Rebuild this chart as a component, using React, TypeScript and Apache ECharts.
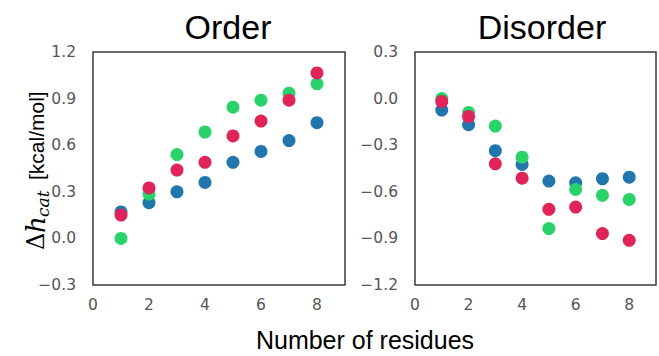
import React, { useEffect, useRef } from "react";
import * as echarts from "echarts";

const residues = [1, 2, 3, 4, 5, 6, 7, 8];

const orderBlue = [0.17, 0.23, 0.3, 0.36, 0.49, 0.56, 0.63, 0.745];
const orderGreen = [0.0, 0.285, 0.54, 0.685, 0.845, 0.89, 0.935, 0.995];
const orderRed = [0.15, 0.325, 0.44, 0.49, 0.66, 0.755, 0.89, 1.065];

const disBlue = [-0.074, -0.168, -0.335, -0.424, -0.531, -0.542, -0.516, -0.506];
const disGreen = [0.0, -0.089, -0.177, -0.377, -0.837, -0.585, -0.623, -0.649];
const disRed = [-0.018, -0.115, -0.42, -0.512, -0.713, -0.698, -0.869, -0.912];

const titles = ["Order", "Disorder"];
const xTitle = "Number of residues";

const BLUE = "#2076ad";
const GREEN = "#2ad36a";
const RED = "#e0245a";

const pairs = (ys: number[]) => residues.map((x, i) => [x, ys[i]]);

export default function App() {
  const ref = useRef<HTMLDivElement>(null);
  useEffect(() => {
    if (!ref.current) return;
    const chart = echarts.init(ref.current, null, { renderer: "svg" });
    const tickFont = {
      fontFamily: "DejaVu Sans",
      fontSize: 15.5,
      color: "#555555",
    };
    const fmtY = (v: number) => v.toFixed(1).replace("-", "\u2212");
    const fmtX = (v: number) => (v % 2 === 0 ? String(v) : "");
    const xAxisBase = {
      type: "value",
      min: 0,
      max: 9,
      interval: 1,
      axisLine: { show: false },
      axisTick: { show: false },
      splitLine: { show: false },
      axisLabel: { ...tickFont, margin: 12, formatter: fmtX },
    };
    const yAxisBase = {
      type: "value",
      interval: 0.3,
      axisLine: { show: false },
      axisTick: { show: false },
      splitLine: { show: false },
      axisLabel: { ...tickFont, margin: 17, formatter: fmtY },
    };
    const sc = (xi: number, ys: number[], color: string, name: string) => ({
      type: "scatter",
      name,
      xAxisIndex: xi,
      yAxisIndex: xi,
      data: pairs(ys),
      symbolSize: 13,
      itemStyle: { color, opacity: 1 },
    });
    chart.setOption({
      animation: false,
      backgroundColor: "#ffffff",
      grid: [
        { left: 93, top: 52, width: 252, height: 233, show: true, borderColor: "#3a3a3a", borderWidth: 1.5, backgroundColor: "transparent" },
        { left: 415, top: 52, width: 250, height: 233, show: true, borderColor: "#3a3a3a", borderWidth: 1.5, backgroundColor: "transparent" },
      ],
      xAxis: [
        { ...xAxisBase, gridIndex: 0 },
        { ...xAxisBase, gridIndex: 1 },
      ],
      yAxis: [
        { ...yAxisBase, gridIndex: 0, min: -0.3, max: 1.2 },
        { ...yAxisBase, gridIndex: 1, min: -1.2, max: 0.3 },
      ],
      series: [
        sc(0, orderBlue, BLUE, "blue"),
        sc(0, orderGreen, GREEN, "green"),
        sc(0, orderRed, RED, "red"),
        sc(1, disBlue, BLUE, "blue"),
        sc(1, disGreen, GREEN, "green"),
        sc(1, disRed, RED, "red"),
      ],
      graphic: [
        {
          type: "text",
          x: 228,
          y: 27,
          style: {
            text: titles[0],
            font: "34px 'Liberation Sans', Arial, sans-serif",
            fill: "#000",
            textAlign: "center",
            textVerticalAlign: "middle",
          },
        },
        {
          type: "text",
          x: 542,
          y: 27,
          style: {
            text: titles[1],
            font: "34px 'Liberation Sans', Arial, sans-serif",
            fill: "#000",
            textAlign: "center",
            textVerticalAlign: "middle",
          },
        },
        {
          type: "text",
          x: 365,
          y: 340,
          style: {
            text: xTitle,
            font: "25px 'Liberation Sans', Arial, sans-serif",
            fill: "#000",
            textAlign: "center",
            textVerticalAlign: "middle",
          },
        },
        {
          type: "group",
          x: 36,
          y: 172,
          rotation: Math.PI / 2,
          children: [
            {
              type: "text",
              x: -78,
              y: 0,
              style: {
                text: "\u0394",
                font: "24px 'DejaVu Serif', 'Liberation Serif', serif",
                fill: "#000",
                textAlign: "left",
                textVerticalAlign: "middle",
              },
            },
            {
              type: "text",
              x: -61,
              y: 0,
              style: {
                text: "h",
                font: "italic 26px 'DejaVu Serif', 'Liberation Serif', serif",
                fill: "#000",
                textAlign: "left",
                textVerticalAlign: "middle",
              },
            },
            {
              type: "text",
              x: -45,
              y: 7,
              style: {
                text: "cat",
                font: "italic 17px 'DejaVu Serif', 'Liberation Serif', serif",
                fill: "#000",
                textAlign: "left",
                textVerticalAlign: "middle",
              },
            },
            {
              type: "text",
              x: -8,
              y: 0,
              style: {
                text: "[kcal/mol]",
                font: "21px 'Liberation Sans', Arial, sans-serif",
                fill: "#000",
                textAlign: "left",
                textVerticalAlign: "middle",
              },
            },
          ],
        },
      ],
    });
    return () => chart.dispose();
  }, []);
  return <div ref={ref} style={{ width: 659, height: 356, position: "absolute", left: 0, top: 0 }} />;
}
